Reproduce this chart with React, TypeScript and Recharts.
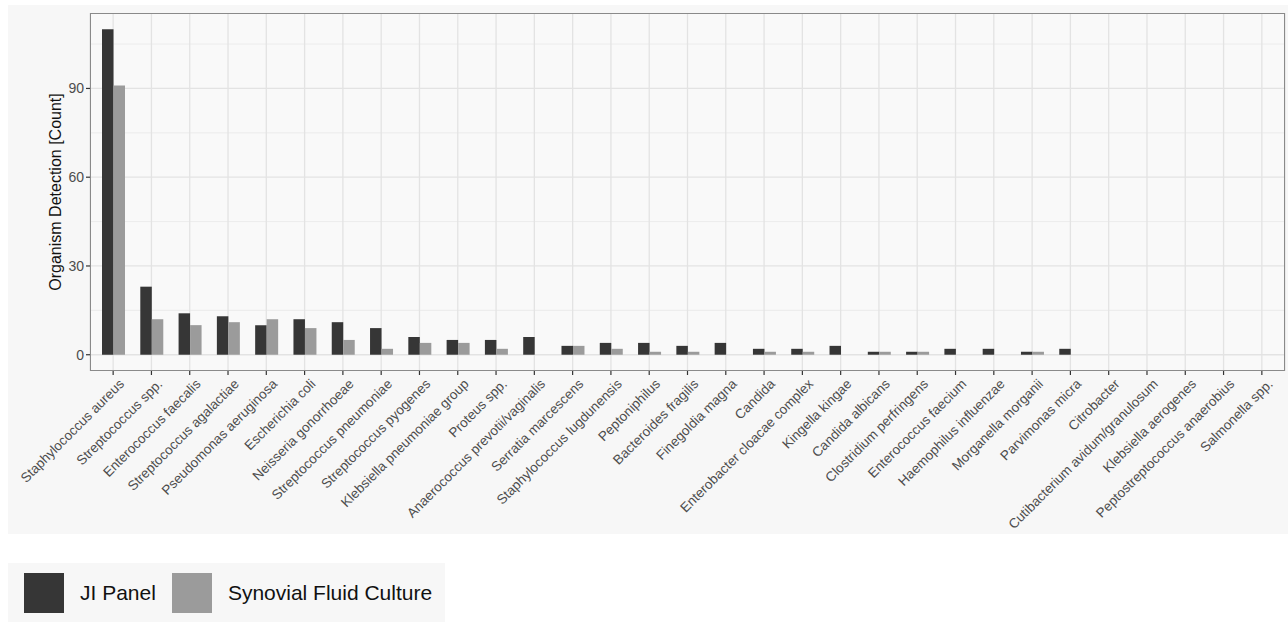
import React from "react"
import { BarChart, Bar, XAxis, YAxis, CartesianGrid, Legend } from "recharts"

const organisms = [
  "Staphylococcus aureus", "Streptococcus spp.", "Enterococcus faecalis",
  "Streptococcus agalactiae", "Pseudomonas aeruginosa", "Escherichia coli",
  "Neisseria gonorrhoeae", "Streptococcus pneumoniae", "Streptococcus pyogenes",
  "Klebsiella pneumoniae group", "Proteus spp.", "Anaerococcus prevotii/vaginalis",
  "Serratia marcescens", "Staphylococcus lugdunensis", "Peptoniphilus",
  "Bacteroides fragilis", "Finegoldia magna", "Candida",
  "Enterobacter cloacae complex", "Kingella kingae", "Candida albicans",
  "Clostridium perfringens", "Enterococcus faecium", "Haemophilus influenzae",
  "Morganella morganii", "Parvimonas micra", "Citrobacter",
  "Cutibacterium avidum/granulosum", "Klebsiella aerogenes",
  "Peptostreptococcus anaerobius", "Salmonella spp.",
]

const jiPanel = [110, 23, 14, 13, 10, 12, 11, 9, 6, 5, 5, 6, 3, 4, 4, 3, 4, 2, 2, 3, 1, 1, 2, 2, 1, 2, 0, 0, 0, 0, 0]
const synovialCulture = [91, 12, 10, 11, 12, 9, 5, 2, 4, 4, 2, 0, 3, 2, 1, 1, 0, 1, 1, 0, 1, 1, 0, 0, 1, 0, 0, 0, 0, 0, 0]

const yTicks = [0, 30, 60, 90]
const yMinor = [15, 45, 75, 105]

const seriesNames = ["JI Panel", "Synovial Fluid Culture"]
const seriesColors = ["#363636", "#9b9b9b"]

const data = organisms.map((name, i) => ({
  name,
  ji: jiPanel[i],
  sfc: synovialCulture[i],
}))

const FONT = "'Liberation Sans', Arial, Helvetica, sans-serif"

const AngledTick = ({ x, y, payload }: any) => {
  const ax = x + 5
  const ay = y + 1
  return (
    <text
      x={ax}
      y={ay}
      transform={`rotate(-45, ${ax}, ${ay})`}
      textAnchor="end"
      dy="0.71em"
      fontSize={13.5}
      fill="#4d4d4d"
      fontFamily={FONT}
    >
      {payload.value}
    </text>
  )
}

const YTitle = ({ viewBox }: any) => {
  const cx = 55
  const cy = viewBox.y + viewBox.height / 2
  return (
    <text
      x={cx}
      y={cy}
      transform={`rotate(-90, ${cx}, ${cy})`}
      textAnchor="middle"
      dominantBaseline="central"
      fontSize={16}
      fill="#111"
      fontFamily={FONT}
    >
      Organism Detection [Count]
    </text>
  )
}

const LegendBox = () => (
  <div
    style={{
      display: "flex",
      alignItems: "center",
      background: "#f7f7f7",
      width: 437,
      height: 59,
      paddingLeft: 16,
      boxSizing: "border-box",
      fontFamily: FONT,
      fontSize: 21,
      color: "#111",
      whiteSpace: "nowrap",
    }}
  >
    {seriesNames.map((n, i) => (
      <div key={n} style={{ display: "flex", alignItems: "center", marginRight: 16, flexShrink: 0 }}>
        <div style={{ width: 40, height: 40, background: seriesColors[i], marginRight: 16, flexShrink: 0 }} />
        <span>{n}</span>
      </div>
    ))}
  </div>
)

export default function App() {
  return (
    <div style={{ position: "absolute", left: 0, top: 0, width: 1288, height: 622, background: "#fff" }}>
      <div style={{ position: "absolute", left: 8, top: 5, width: 1280, height: 529, background: "#f7f7f7" }} />
      <div style={{ position: "absolute", left: 0, top: 0 }}>
        <BarChart
          width={1288}
          height={622}
          data={data}
          margin={{ top: 13, right: 3, left: 0, bottom: 88 }}
          barGap={0}
          barSize={11.5}
        >
          <CartesianGrid fill="#f9f9f9" stroke="#e9e9e9" strokeWidth={0.8} vertical={false} horizontalValues={yMinor} />
          <CartesianGrid stroke="#e3e3e3" strokeWidth={1.3} horizontalValues={yTicks} fillOpacity={0} />
          <XAxis
            dataKey="name"
            interval={0}
            height={163}
            padding={{ left: 4, right: 4 }}
            axisLine={false}
            tickLine={{ stroke: "#333", strokeWidth: 1.2 }}
            tickSize={4}
            tick={<AngledTick />}
          />
          <YAxis
            width={90}
            domain={[-5.5, 115.5]}
            ticks={yTicks}
            allowDataOverflow
            axisLine={false}
            tickLine={{ stroke: "#333", strokeWidth: 1.2 }}
            tickSize={4}
            tick={{ fontSize: 14, fill: "#4d4d4d", fontFamily: FONT }}
            label={{ content: <YTitle /> }}
          />
          <Legend
            verticalAlign="middle"
            layout="horizontal"
            content={<LegendBox />}
            wrapperStyle={{ position: "absolute", left: 8, top: 563, width: 437, height: 59 }}
          />
          <Bar dataKey="ji" name={seriesNames[0]} fill={seriesColors[0]} isAnimationActive={false} />
          <Bar dataKey="sfc" name={seriesNames[1]} fill={seriesColors[1]} isAnimationActive={false} />
        </BarChart>
      </div>
      <div
        style={{
          position: "absolute",
          left: 90,
          top: 13,
          width: 1195,
          height: 358,
          border: "1px solid #8a8a8a",
          boxSizing: "border-box",
          pointerEvents: "none",
        }}
      />
    </div>
  )
}
